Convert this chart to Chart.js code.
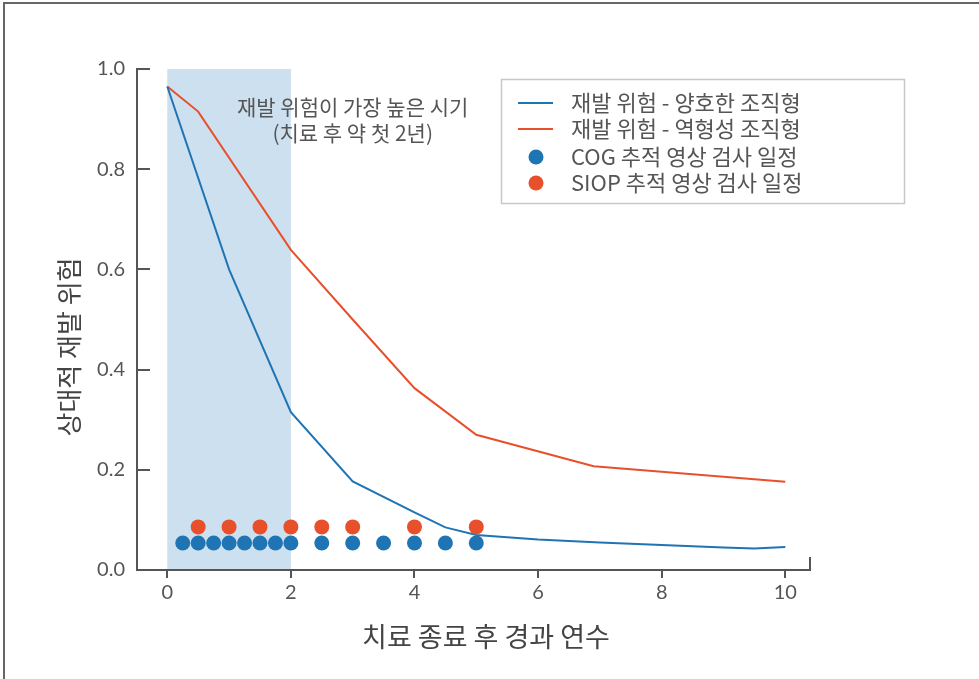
<!DOCTYPE html>
<html>
<head>
<meta charset="utf-8">
<script src="https://cdn.jsdelivr.net/npm/chart.js@4"></script>
<style>
  html, body { margin: 0; padding: 0; background: #fff; }
</style>
</head>
<body>
<canvas id="myChart" width="979" height="679"></canvas>
<script>
// curves
const goodYears = [0, 1, 2, 3, 4, 4.5, 5, 6, 7, 8, 9, 9.5, 10];
const goodRisk  = [0.965, 0.6, 0.315, 0.177, 0.115, 0.085, 0.07, 0.061, 0.055, 0.05, 0.045, 0.043, 0.046];
const poorYears = [0, 0.5, 2, 3, 4, 5, 6.9, 10];
const poorRisk  = [0.965, 0.915, 0.639, 0.5, 0.363, 0.27, 0.207, 0.176];

// imaging schedules
const cogYears  = [0.25, 0.5, 0.75, 1, 1.25, 1.5, 1.75, 2, 2.5, 3, 3.5, 4, 4.5, 5];
const cogLevel  = 0.054;
const siopYears = [0.5, 1, 1.5, 2, 2.5, 3, 4, 5];
const siopLevel = 0.086;

const xTicks = [0, 2, 4, 6, 8, 10];
const yTicks = [0, 0.2, 0.4, 0.6, 0.8, 1.0];
const bandStart = 0, bandEnd = 2;

const seriesNames = ['재발 위험 - 양호한 조직형', '재발 위험 - 역형성 조직형', 'COG 추적 영상 검사 일정', 'SIOP 추적 영상 검사 일정'];
const noteLines = ['재발 위험이 가장 높은 시기', '(치료 후 약 첫 2년)'];
const xTitle = '치료 종료 후 경과 연수';
const yTitle = '상대적 재발 위험';

const BLUE = '#1f74b4';
const RED = '#e8502c';
const TEXT = '#555';
const KR = "'Noto Sans CJK KR', 'Noto Sans', sans-serif";

function pts(xs, ys) {
  return xs.map((v, i) => ({x: v, y: Array.isArray(ys) ? ys[i] : ys}));
}

const extras = {
  id: 'extras',
  beforeDatasetsDraw(chart) {
    const {ctx, scales: {x, y}} = chart;
    const x0 = x.getPixelForValue(bandStart), x1 = x.getPixelForValue(bandEnd);
    const yt = y.getPixelForValue(1), yb = y.getPixelForValue(0);
    ctx.save();
    ctx.fillStyle = '#cde0ef';
    ctx.fillRect(x0, yt, x1 - x0, yb - yt - 1);
    ctx.fillStyle = TEXT;
    ctx.font = '21px ' + KR;
    ctx.textAlign = 'center';
    ctx.textBaseline = 'middle';
    ctx.fillText(noteLines[0], x.getPixelForValue(3), y.getPixelForValue(0.924));
    ctx.fillText(noteLines[1], x.getPixelForValue(3), y.getPixelForValue(0.872));
    ctx.restore();
  },
  afterDraw(chart) {
    const {ctx, chartArea: a, scales: {y}} = chart;
    ctx.save();
    ctx.strokeStyle = '#555';
    ctx.lineWidth = 2;
    // y ticks point inward
    yTicks.forEach(v => {
      const py = Math.round(y.getPixelForValue(v));
      ctx.beginPath(); ctx.moveTo(a.left, py); ctx.lineTo(a.left + 13, py); ctx.stroke();
    });
    // little end tick on x axis
    ctx.beginPath(); ctx.moveTo(a.right, a.bottom); ctx.lineTo(a.right, a.bottom - 13); ctx.stroke();

    // axis titles
    ctx.fillStyle = '#444';
    ctx.font = '27px ' + KR;
    ctx.textAlign = 'center';
    ctx.textBaseline = 'middle';
    ctx.fillText(xTitle, 486, 637);
    ctx.font = '26px ' + KR;
    ctx.save();
    ctx.translate(69, 347);
    ctx.rotate(-Math.PI / 2);
    ctx.fillText(yTitle, 0, 0);
    ctx.restore();

    // legend box
    ctx.fillStyle = '#fff';
    ctx.fillRect(501, 79, 404, 125);
    ctx.strokeStyle = '#c8c8c8';
    ctx.lineWidth = 1.5;
    ctx.strokeRect(501.5, 79.5, 403, 124);
    const rows = [103, 129, 157, 183];
    chart.data.datasets.forEach((ds, i) => {
      const ry = rows[i];
      if (ds.showLine === false) {
        ctx.fillStyle = ds.backgroundColor;
        ctx.beginPath(); ctx.arc(536, ry, 7.5, 0, Math.PI * 2); ctx.fill();
      } else {
        ctx.strokeStyle = ds.borderColor;
        ctx.lineWidth = 2;
        ctx.beginPath(); ctx.moveTo(518, ry); ctx.lineTo(553, ry); ctx.stroke();
      }
      ctx.fillStyle = TEXT;
      ctx.font = '22px ' + KR;
      ctx.textAlign = 'left';
      ctx.fillText(ds.label, 571, ry);
    });

    // picture frame
    ctx.strokeStyle = '#666';
    ctx.lineWidth = 2;
    ctx.beginPath(); ctx.moveTo(4, 679); ctx.lineTo(4, 3); ctx.lineTo(979, 3); ctx.stroke();
    ctx.restore();
  }
};

Chart.defaults.font.family = "Lato, 'Noto Sans', sans-serif";
Chart.defaults.color = TEXT;

const config = {
  type: 'line',
  data: {
    datasets: [
      {label: seriesNames[0], data: pts(goodYears, goodRisk), borderColor: BLUE, borderWidth: 2, pointRadius: 0, tension: 0, order: 1},
      {label: seriesNames[1], data: pts(poorYears, poorRisk), borderColor: RED, borderWidth: 2, pointRadius: 0, tension: 0, order: 1},
      {label: seriesNames[2], data: pts(cogYears, cogLevel), showLine: false, backgroundColor: BLUE, borderWidth: 0, pointRadius: 7.5, order: 0},
      {label: seriesNames[3], data: pts(siopYears, siopLevel), showLine: false, backgroundColor: RED, borderWidth: 0, pointRadius: 7.5, order: 0}
    ]
  },
  options: {
    responsive: false,
    animation: false,
    events: [],
    layout: {padding: {left: 40, right: 169, top: 69, bottom: 10}},
    plugins: {legend: {display: false}, tooltip: {enabled: false}},
    scales: {
      x: {
        type: 'linear', min: -0.49, max: 10.4,
        afterBuildTicks: s => { s.ticks = xTicks.map(v => ({value: v})); },
        afterFit: s => { s.height = 99; },
        grid: {drawOnChartArea: false, drawTicks: true, tickLength: 8, color: '#555', lineWidth: 2},
        border: {display: true, color: '#555', width: 2},
        ticks: {padding: 3, font: {size: 20}, color: TEXT, maxRotation: 0}
      },
      y: {
        min: 0, max: 1,
        afterBuildTicks: s => { s.ticks = yTicks.map(v => ({value: v})); },
        afterFit: s => { s.width = 97; },
        grid: {display: false, drawTicks: false},
        border: {display: true, color: '#555', width: 2},
        ticks: {padding: 12, font: {size: 20}, color: TEXT, callback: v => v.toFixed(1)}
      }
    }
  },
  plugins: [extras]
};

const myChart = new Chart(document.getElementById('myChart'), config);
</script>
</body>
</html>
